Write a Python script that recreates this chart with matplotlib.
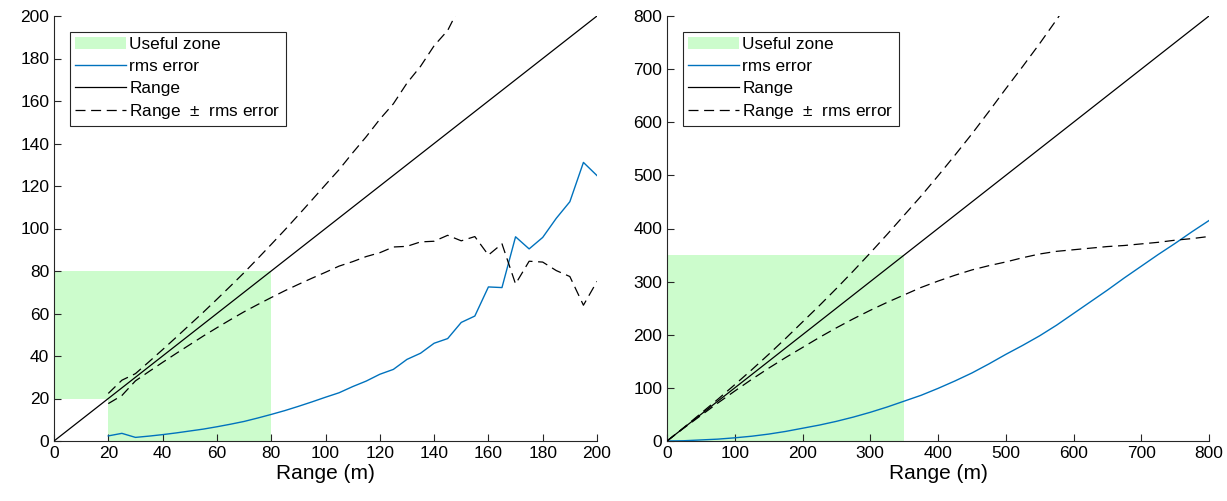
import numpy as np
import matplotlib
matplotlib.use("Agg")
import matplotlib.pyplot as plt

# ---- data: left panel (short range) ----
range_left = [20, 25, 30, 35, 40, 45, 50, 55, 60, 65, 70, 75, 80, 85, 90, 95,
              100, 105, 110, 115, 120, 125, 130, 135, 140, 145, 150, 155, 160,
              165, 170, 175, 180, 185, 190, 195, 200]
rms_left = [2.4, 3.6, 1.7, 2.3, 3.0, 3.8, 4.7, 5.6, 6.7, 7.9, 9.2, 10.8, 12.5,
            14.3, 16.3, 18.4, 20.6, 22.7, 25.6, 28.2, 31.4, 33.7, 38.4, 41.3,
            46.0, 48.2, 55.8, 58.8, 72.5, 72.2, 96.1, 90.4, 95.8, 104.8, 112.6,
            131.1, 124.9]
zone_left_x = [0, 0, 80, 80, 20, 20]
zone_left_y = [20, 80, 80, 0, 0, 20]
xlim_left = (0, 200)
ylim_left = (0, 200)

# ---- data: right panel (long range) ----
range_right = [0, 25, 50, 75, 100, 125, 150, 175, 200, 225, 250, 275, 300,
               325, 350, 375, 400, 425, 450, 475, 500, 525, 550, 575, 600,
               625, 650, 675, 700, 725, 750, 775, 800]
rms_right = [0, 0.5, 2, 3.5, 6, 9, 13, 18, 24, 30, 37, 45, 54, 64, 75, 86, 99,
             113, 128, 145, 163, 180, 198, 218, 240, 262, 284, 307, 329, 351,
             372, 394, 415]
zone_right_x = [0, 0, 350, 350]
zone_right_y = [0, 350, 350, 0]
xlim_right = (0, 800)
ylim_right = (0, 800)

labels = ["Useful zone", "rms error", "Range", "Range  $\\pm$  rms error"]

plt.rcParams['font.family'] = ['Liberation Sans', 'DejaVu Sans']
plt.rcParams['mathtext.fontset'] = 'custom'
plt.rcParams['mathtext.rm'] = 'Liberation Sans'

GREEN = '#ccfccc'
BLUE = '#0072BD'
AXC = '#262626'

fig = plt.figure(figsize=(12.27, 5.01), dpi=100)
ax1 = fig.add_axes([54/1227, 60/501, 543/1227, 425/501])
ax2 = fig.add_axes([667/1227, 60/501, 542/1227, 425/501])


def draw(ax, rx, rms, zx, zy, xlim, ylim, step, line_x):
    rx = np.asarray(rx, float)
    rms = np.asarray(rms, float)
    hz = ax.fill(zx, zy, color=GREEN, lw=0, zorder=1)[0]
    hb, = ax.plot(rx, rms, color=BLUE, lw=1.0, zorder=3)
    hr, = ax.plot(line_x, line_x, color='black', lw=0.9, zorder=3)
    hd, = ax.plot(rx, rx + rms, color='black', lw=0.9, dashes=(8, 4.5), zorder=3)
    ax.plot(rx, rx - rms, color='black', lw=0.9, dashes=(8, 4.5), zorder=3)
    ax.set_xlim(*xlim)
    ax.set_ylim(*ylim)
    ax.set_xticks(np.arange(xlim[0], xlim[1] + 1, step))
    ax.set_yticks(np.arange(ylim[0], ylim[1] + 1, step))
    for s in ['top', 'right']:
        ax.spines[s].set_visible(False)
    for s in ['left', 'bottom']:
        ax.spines[s].set_color(AXC)
        ax.spines[s].set_linewidth(0.8)
    ax.tick_params(direction='in', length=5, width=0.8, colors=AXC,
                   labelsize=12.5, labelcolor='black')
    ax.set_xlabel("Range (m)", fontsize=15, labelpad=2)
    leg = ax.legend([hz, hb, hr, hd], labels, loc='upper left',
                    bbox_to_anchor=(0.0295, 0.962), borderaxespad=0,
                    fontsize=12.4, handlelength=2.95, handletextpad=0.2,
                    labelspacing=0.38, borderpad=0.3, fancybox=False,
                    framealpha=1, edgecolor=AXC)
    leg.get_frame().set_linewidth(0.8)


draw(ax1, range_left, rms_left, zone_left_x, zone_left_y, xlim_left,
     ylim_left, 20, np.array(xlim_left))
draw(ax2, range_right, rms_right, zone_right_x, zone_right_y, xlim_right,
     ylim_right, 100, np.array(xlim_right))

fig.savefig("out.png", dpi=100)
